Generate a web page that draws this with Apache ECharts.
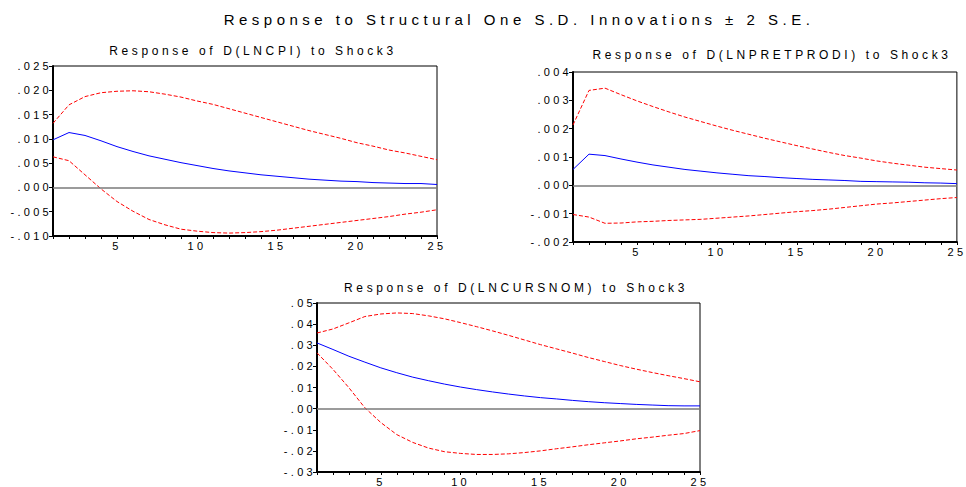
<!DOCTYPE html>
<html>
<head>
<meta charset="utf-8">
<script src="https://cdn.jsdelivr.net/npm/echarts@6/dist/echarts.min.js"></script>
<style>
  html, body { margin: 0; padding: 0; background: #fff; }
  #chart { width: 966px; height: 487px; }
  /* the EViews output is drawn wide, so space the letters out */
  #chart svg text { letter-spacing: 0.3em; }
</style>
</head>
<body>
<div id="chart"></div>
<script>
// impulse responses, horizon 1..25
var periods = [];
for (var i = 1; i <= 25; i++) periods.push(i);

var cpiUpper = [0.0132, 0.0170, 0.0187, 0.0195, 0.0198, 0.0199, 0.0197, 0.0192, 0.0186, 0.0178,
  0.0171, 0.0162, 0.0153, 0.0144, 0.0135, 0.0126, 0.0117, 0.0109, 0.0101, 0.0092,
  0.0085, 0.0077, 0.0071, 0.0064, 0.0057];
var cpiResp = [0.0098, 0.0113, 0.0107, 0.0096, 0.0084, 0.0074, 0.0065, 0.0058, 0.0051, 0.0045,
  0.0039, 0.0034, 0.0030, 0.0026, 0.0023, 0.0020, 0.0017, 0.0015, 0.0013, 0.0012,
  0.0010, 0.0009, 0.0008, 0.0008, 0.0006];
var cpiLower = [0.0063, 0.0055, 0.0026, -0.0003, -0.0029, -0.0049, -0.0066, -0.0077, -0.0086, -0.0090,
  -0.0093, -0.0094, -0.0093, -0.0091, -0.0088, -0.0084, -0.0080, -0.0076, -0.0072, -0.0068,
  -0.0064, -0.0060, -0.0055, -0.0051, -0.0046];

var prodUpper = [0.00213, 0.00335, 0.00343, 0.00320, 0.00298, 0.00278, 0.00259, 0.00241, 0.00225, 0.00209,
  0.00194, 0.00180, 0.00166, 0.00153, 0.00140, 0.00128, 0.00116, 0.00105, 0.00096, 0.00086,
  0.00078, 0.00071, 0.00064, 0.00059, 0.00054];
var prodResp = [0.00056, 0.00110, 0.00105, 0.00093, 0.00082, 0.00072, 0.00064, 0.00056, 0.00050, 0.00044,
  0.00039, 0.00034, 0.00031, 0.00027, 0.00024, 0.00021, 0.00019, 0.00017, 0.00014, 0.00013,
  0.00012, 0.00011, 0.00009, 0.00008, 0.00006];
var prodLower = [-0.00103, -0.00112, -0.00134, -0.00133, -0.00129, -0.00127, -0.00124, -0.00122, -0.00120, -0.00116,
  -0.00112, -0.00108, -0.00103, -0.00098, -0.00093, -0.00089, -0.00084, -0.00078, -0.00072, -0.00066,
  -0.00062, -0.00057, -0.00052, -0.00047, -0.00043];

var cursUpper = [0.0358, 0.0377, 0.0406, 0.0436, 0.0448, 0.0453, 0.0450, 0.0439, 0.0425, 0.0407,
  0.0388, 0.0368, 0.0347, 0.0325, 0.0303, 0.0283, 0.0263, 0.0242, 0.0223, 0.0204,
  0.0187, 0.0171, 0.0156, 0.0142, 0.0127];
var cursResp = [0.0311, 0.0280, 0.0248, 0.0220, 0.0193, 0.0170, 0.0149, 0.0132, 0.0116, 0.0102,
  0.0090, 0.0079, 0.0069, 0.0060, 0.0052, 0.0046, 0.0039, 0.0033, 0.0028, 0.0024,
  0.0020, 0.0017, 0.0014, 0.0013, 0.0013];
var cursLower = [0.0264, 0.0186, 0.0099, 0.0004, -0.0066, -0.0123, -0.0160, -0.0187, -0.0204, -0.0212,
  -0.0217, -0.0217, -0.0214, -0.0208, -0.0200, -0.0190, -0.0181, -0.0171, -0.0162, -0.0153,
  -0.0143, -0.0135, -0.0126, -0.0118, -0.0104];

var panels = [
  { title: 'Response of D(LNCPI) to Shock3', up: cpiUpper, mid: cpiResp, lo: cpiLower,
    min: -0.010, max: 0.025, step: 0.005, dec: 3,
    box: { left: 53, top: 66, width: 384, height: 170 }, titlePos: [248, 40] },
  { title: 'Response of D(LNPRETPRODI) to Shock3', up: prodUpper, mid: prodResp, lo: prodLower,
    min: -0.002, max: 0.004, step: 0.001, dec: 3,
    box: { left: 573, top: 72, width: 384, height: 170 }, titlePos: [767, 44] },
  { title: 'Response of D(LNCURSNOM) to Shock3', up: cursUpper, mid: cursResp, lo: cursLower,
    min: -0.03, max: 0.05, step: 0.01, dec: 2,
    box: { left: 317, top: 303, width: 383, height: 171 }, titlePos: [511, 277] }
];

var font = 'Liberation Sans, Arial, sans-serif';
var titles = [{
  text: 'Response to Structural One S.D. Innovations \u00b1 2 S.E.',
  left: 514, top: 7, textAlign: 'center',
  textStyle: { fontFamily: font, fontSize: 15, fontWeight: 'normal', color: '#000' }
}];
var grids = [], xAxes = [], yAxes = [], series = [];

panels.forEach(function(p, k) {
  titles.push({
    text: p.title, left: p.titlePos[0], top: p.titlePos[1], textAlign: 'center',
    textStyle: { fontFamily: font, fontSize: 12, fontWeight: 'normal', color: '#000' }
  });
  grids.push(Object.assign({ show: true, borderColor: '#000', borderWidth: 1, backgroundColor: '#fff' }, p.box));
  xAxes.push({
    type: 'value', gridIndex: k, min: 1, max: 25, interval: 1,
    axisLine: { onZero: false, lineStyle: { color: '#000', width: 2 } },
    axisTick: { inside: false, length: 3, lineStyle: { color: '#000' } },
    axisLabel: {
      color: '#000', fontFamily: font, fontSize: 11, margin: 4,
      formatter: function(v) { return v % 5 === 0 ? String(v) : ''; }
    },
    splitLine: { show: false }
  });
  yAxes.push({
    type: 'value', gridIndex: k, min: p.min, max: p.max, interval: p.step,
    axisLine: { lineStyle: { color: '#000', width: 2 } },
    axisTick: { inside: false, length: 4, lineStyle: { color: '#000' } },
    axisLabel: {
      color: '#000', fontFamily: font, fontSize: 11, margin: 1,
      formatter: function(v) { return v.toFixed(p.dec).replace(/^(-?)0\./, '$1.'); }
    },
    splitLine: { show: false }
  });
  function pairs(arr) { return arr.map(function(v, j) { return [periods[j], v]; }); }
  series.push({
    type: 'line', xAxisIndex: k, yAxisIndex: k, data: pairs(p.mid), showSymbol: false,
    lineStyle: { color: '#0000ff', width: 1 }, z: 3,
    markLine: {
      silent: true, symbol: 'none', label: { show: false },
      lineStyle: { color: '#7a7a7a', type: 'solid', width: 1.5 },
      data: [{ yAxis: 0 }]
    }
  });
  series.push({
    type: 'line', xAxisIndex: k, yAxisIndex: k, data: pairs(p.up), showSymbol: false,
    lineStyle: { color: '#ff0000', width: 1, type: [4, 2] }, z: 3
  });
  series.push({
    type: 'line', xAxisIndex: k, yAxisIndex: k, data: pairs(p.lo), showSymbol: false,
    lineStyle: { color: '#ff0000', width: 1, type: [4, 2] }, z: 3
  });
});

var chart = echarts.init(document.getElementById('chart'), null, { renderer: 'svg' });
chart.setOption({
  animation: false,
  backgroundColor: '#fff',
  title: titles,
  grid: grids,
  xAxis: xAxes,
  yAxis: yAxes,
  series: series
});
</script>
</body>
</html>
